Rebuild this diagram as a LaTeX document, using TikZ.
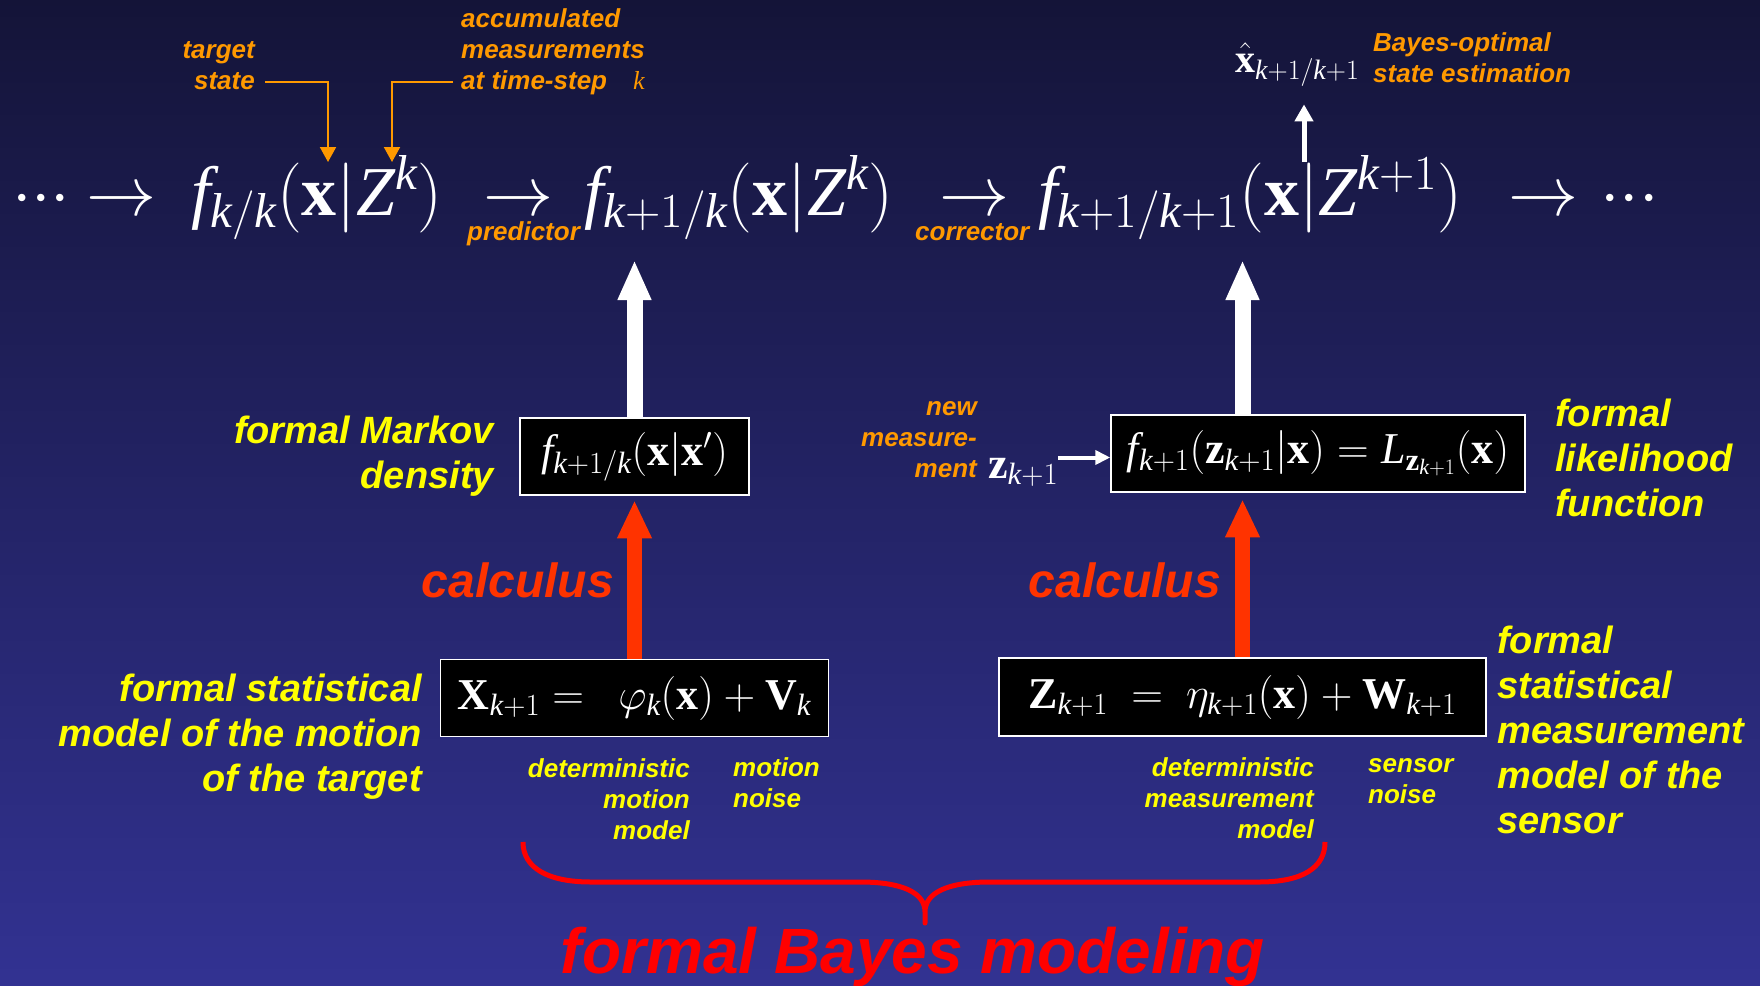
\RequirePackage{fix-cm}
\documentclass[tikz,border=0pt]{standalone}
\usepackage{fontspec}
\setmainfont{Liberation Serif}
\newfontfamily\lbfont{Liberation Sans}
\usepackage{tikz}
\usetikzlibrary{arrows.meta, positioning}
\newcommand{\vk}{\mathit{k}}
\newcommand{\vf}{\mathit{f}}
\definecolor{bgtop}{RGB}{20,20,56}
\definecolor{bgbot}{RGB}{50,50,146}
\definecolor{orangelab}{RGB}{255,153,0}
\definecolor{yellowlab}{RGB}{255,255,0}
\definecolor{calcred}{RGB}{255,51,0}
\definecolor{bayesred}{RGB}{255,0,0}
\tikzset{
  orangenote/.style={font=\lbfont\bfseries\itshape\fontsize{26}{31}\selectfont,
    text=orangelab, inner sep=0pt, execute at begin node=\strut},
  yellownote/.style={orangenote, text=yellowlab},
  yellowtag/.style={font=\lbfont\bfseries\itshape\fontsize{38}{45}\selectfont,
    text=yellowlab, inner sep=0pt, execute at begin node=\strut},
  calclab/.style={font=\lbfont\bfseries\itshape\fontsize{48}{56}\selectfont,
    text=calcred, inner sep=0pt},
  bayeslab/.style={font=\lbfont\bfseries\itshape\fontsize{64}{72}\selectfont,
    text=bayesred, inner sep=0pt},
  bigmath/.style={text=white, inner sep=0pt, font=\fontsize{70}{78}\selectfont},
  mathbox/.style={rectangle, draw=white, line width=1.5pt, fill=black,
    text=white, minimum height=77pt, inner sep=0pt,
    font=\fontsize{44}{50}\selectfont},
  whitearrow/.style={-{Triangle[width=31pt,length=40pt]}, line width=16pt, white},
  redarrow/.style={-{Triangle[width=32pt,length=38pt]}, line width=15.5pt, calcred},
  pointer/.style={-{Triangle[width=16pt,length=15pt]}, line width=2pt, color=orangelab},
  estarrow/.style={-{Triangle[width=18pt,length=17pt]}, line width=5pt, white},
  smallarrow/.style={-{Triangle[width=14pt,length=15pt]}, line width=4pt, white},
}

\begin{document}
\begin{tikzpicture}[x=1pt, y=-1pt]
  \shade[top color=bgtop, bottom color=bgbot] (0,0) rectangle (1760,985);
  \useasboundingbox (0,0) rectangle (1760,985);

  % top row: the recursive filter
  \node[bigmath, anchor=base west] (dots1) at (12,215) {${\cdot}{\cdot}{\cdot}$};
  \node[bigmath, anchor=base west] (arr1) at (86,215) {$\rightarrow$};
  \node[bigmath, anchor=base west] (fkk) at (191,215)
    {$\vf_{\vk/\vk}(\mathbf{x}|\mathit{Z}^{\vk})$};
  \node[bigmath, anchor=base west] (arr2) at (483,215) {$\rightarrow$};
  \node[bigmath, anchor=base west] (fpred) at (584,215)
    {$\vf_{\vk+1/\vk}(\mathbf{x}|\mathit{Z}^{\vk})$};
  \node[bigmath, anchor=base west] (arr3) at (939,215) {$\rightarrow$};
  \node[bigmath, anchor=base west] (fcorr) at (1038,215)
    {$\vf_{\vk+1/\vk+1}(\mathbf{x}|\mathit{Z}^{\vk+1})$};
  \node[bigmath, anchor=base west] (arr4) at (1508,215) {$\rightarrow$};
  \node[bigmath, anchor=base west] (dots2) at (1600,215) {${\cdot}{\cdot}{\cdot}$};

  \node[orangenote, anchor=base west] (predlab) at (467,240) {predictor};
  \node[orangenote, anchor=base west] (corrlab) at (915,240) {corrector};

  % what the arguments mean
  \node[orangenote, align=right, anchor=north east] (targetlab) at (255,41)
    {target\\state};
  \node[orangenote, align=left, anchor=north west] (acclab) at (461,8)
    {accumulated\\measurements\\at time-step\quad$\vk$};
  \coordinate (xtip) at (328,162);
  \coordinate (ztip) at (392,162);
  \draw[pointer] ([shift={(10pt,17pt)}]targetlab.south east) -| (xtip);
  \draw[pointer] ([shift={(-8pt,16.5pt)}]acclab.south west) -| (ztip);

  % state estimate
  \node[text=white, inner sep=0pt, font=\fontsize{40}{46}\selectfont,
    anchor=base west] (xhat) at (1235,72) {$\hat{\mathbf{x}}_{\vk+1/\vk+1}$};
  \node[orangenote, align=left, anchor=north west] (estlab) at (1373,32)
    {Bayes-optimal\\state estimation};
  \coordinate (esttail) at (1304,162);
  \draw[estarrow] (esttail) -- ([yshift=-18pt]esttail |- xhat.south);

  % motion side
  \node[mathbox, minimum width=229pt] (markov) at (634.5,456.5)
    {$\vf_{\vk+1/\vk}\bigl(\mathbf{x}|\mathbf{x}'\bigr)$};
  \node[mathbox, minimum width=388pt, below=163pt of markov] (motion)
    {$\mathbf{X}_{\vk+1} =\ \ \varphi_{\vk}(\mathbf{x})+\mathbf{V}_{\vk}$};
  \node[yellowtag, align=right, anchor=north east] (markovlab) at (494,416)
    {formal Markov\\density};
  \node[yellowtag, align=right, anchor=north east] (motionlab) at (422,673.5)
    {formal statistical\\model of the motion\\of the target};
  \node[yellownote, align=right, anchor=north east] (detmot) at (690,758)
    {deterministic\\motion\\model};
  \node[yellownote, align=left, anchor=north west] (motnoise) at (733,757.5)
    {motion\\noise};
  \node[calclab, anchor=base east] (calc1) at (614,597) {calculus};

  \coordinate (predin) at (634.5,260);
  \draw[whitearrow] (markov.north) -- (predin);
  \draw[redarrow] (motion.north) -- ([yshift=-4.5pt]motion.north |- markov.south);

  % measurement side
  \node[mathbox, minimum width=414pt] (lik) at (1318,453.5)
    {$\vf_{\vk+1}(\mathbf{z}_{\vk+1}|\mathbf{x}) = \mathit{L}_{\mathbf{z}_{\vk+1}}(\mathbf{x})$};
  \node[mathbox, minimum width=487pt, minimum height=78pt] (meas) at (1242.5,697)
    {$\mathbf{Z}_{\vk+1}\ =\ \eta_{\vk+1}(\mathbf{x})+\mathbf{W}_{\vk+1}$};
  \node[orangenote, align=right, anchor=north east] (newlab) at (977,401)
    {new\\measure-\\ment};
  \node[text=white, inner sep=0pt, font=\fontsize{44}{50}\selectfont,
    anchor=base west] (zmeas) at (988,478) {$\mathbf{z}_{\vk+1}$};
  \draw[smallarrow] ([yshift=-4pt]zmeas.east |- lik.west) -- ([yshift=-4pt]lik.west);
  \node[yellowtag, align=left, anchor=north west] (liklab) at (1555,398.5)
    {formal\\likelihood\\function};
  \node[yellowtag, align=left, anchor=north west] (measlab) at (1497,625.5)
    {formal\\statistical\\measurement\\model of the\\sensor};
  \node[yellownote, align=right, anchor=north east] (detmeas) at (1314,757)
    {deterministic\\measurement\\model};
  \node[yellownote, align=left, anchor=north west] (sensnoise) at (1368,758)
    {sensor\\noise};
  \node[calclab, anchor=base east] (calc2) at (1221,597) {calculus};

  \coordinate (corrin) at (1242.5,260);
  \draw[whitearrow] (lik.north -| meas.north) -- (corrin);
  \draw[redarrow] (meas.north) -- ([yshift=-6.5pt]meas.north |- lik.south);

  % the brace over both models
  \draw[bayesred, line width=5pt, line join=round]
    (523,842) .. controls (523,868) and (548,882) .. (591,882) -- (860,882)
    .. controls (903,882) and (925,893) .. (925,912) -- (925,923) -- (925,912)
    .. controls (925,893) and (947,882) .. (990,882) -- (1259,882)
    .. controls (1302,882) and (1325,868) .. (1325,842);
  \node[bayeslab, anchor=base] (bayeslab) at (913,973) {formal Bayes modeling};
\end{tikzpicture}
\end{document}
